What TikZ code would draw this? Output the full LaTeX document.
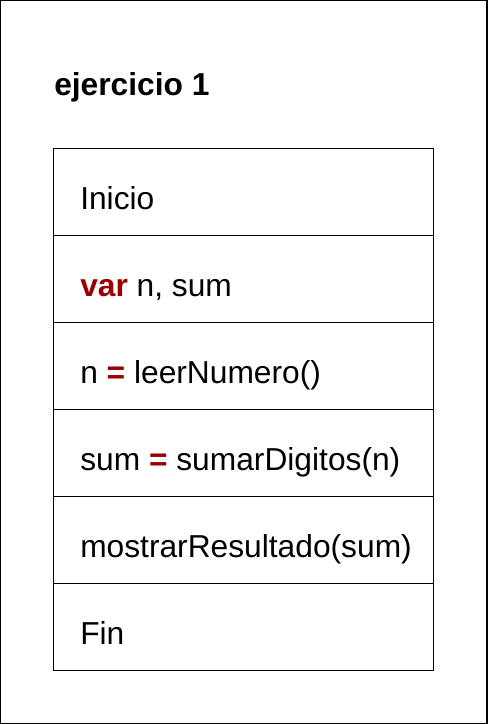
\documentclass[tikz,border=0pt]{standalone}
\usepackage{fontspec}
\setmainfont{Liberation Sans}
\usetikzlibrary{positioning}
\definecolor{kwred}{HTML}{990000}
\newcommand{\kw}[1]{\textcolor{kwred}{\textbf{#1}}}

\begin{document}
\begin{tikzpicture}[x=0.75pt, y=-0.75pt,
	row/.style={draw, line width=0.75pt, minimum width=285pt, minimum height=65.25pt, inner sep=0pt, outer sep=0pt},
	txt/.style={anchor=base west, inner sep=0pt, font=\fontsize{23.8}{28}\selectfont}]
	\useasboundingbox (0,0) rectangle (487,724);
	\draw [line width=1.5pt] (0,0) rectangle (487,724);
	\node [txt, font=\fontsize{23.8}{28}\selectfont\bfseries] (title) at (54,95) {ejercicio 1};
	% rows of the block
	\node [row, anchor=north west] (r1) at (53,148) {};
	\node [row, below=0pt of r1] (r2) {};
	\node [row, below=0pt of r2] (r3) {};
	\node [row, below=0pt of r3] (r4) {};
	\node [row, below=0pt of r4] (r5) {};
	\node [row, below=0pt of r5] (r6) {};
	\node [txt] (t1) at (80,209) {Inicio};
	\node [txt] (t2) at (80,296) {\kw{var} n, sum};
	\node [txt] (t3) at (80,383) {n \kw{=} leerNumero()};
	\node [txt] (t4) at (80,470) {sum \kw{=} sumarDigitos(n)};
	\node [txt] (t5) at (80,557) {mostrarResultado(sum)};
	\node [txt] (t6) at (80,644) {Fin};
\end{tikzpicture}
\end{document}
